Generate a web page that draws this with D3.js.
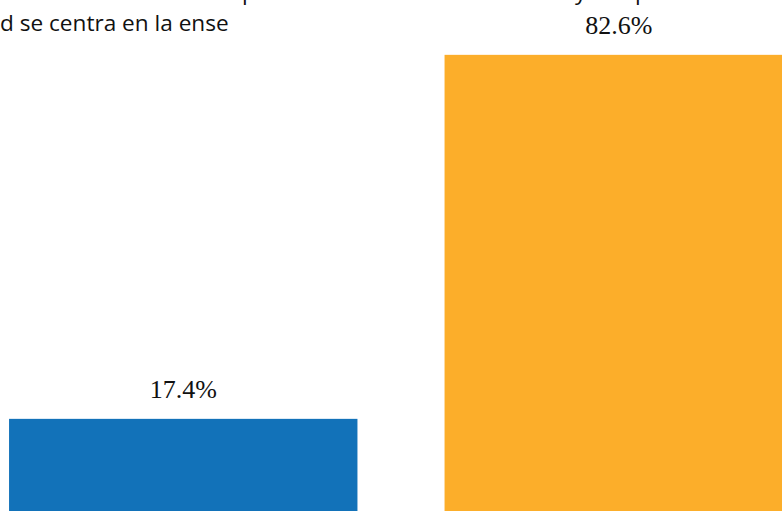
<!DOCTYPE html>
<html>
<head>
<meta charset="utf-8">
<script src="https://cdn.jsdelivr.net/npm/d3@7"></script>
<style>
  body { margin: 0; background: #ffffff; }
  svg { display: block; }
</style>
</head>
<body>
<div id="chart"></div>
<script>
// data
var categories = ["cat1", "cat2"];
var values = [17.4, 82.6];
var colors = ["#1272b9", "#fcae2a"];

var width = 782, height = 511;

var svg = d3.select("#chart")
    .append("svg")
    .attr("width", width)
    .attr("height", height);

var x = d3.scaleBand()
    .domain(categories)
    .range([-34.5, 836.5])
    .paddingInner(0.2)
    .paddingOuter(0.1);

var y = d3.scaleLinear()
    .domain([0, 100])
    .range([516, -42.3]);

// bars
svg.selectAll("rect.bar")
    .data(values)
    .enter()
    .append("rect")
    .attr("class", "bar")
    .attr("x", function (d, i) { return x(categories[i]); })
    .attr("y", function (d) { return y(d); })
    .attr("width", x.bandwidth())
    .attr("height", function (d) { return y(0) - y(d); })
    .attr("fill", function (d, i) { return colors[i]; });

// value labels
svg.selectAll("text.val")
    .data(values)
    .enter()
    .append("text")
    .attr("class", "val")
    .attr("x", function (d, i) { return x(categories[i]) + x.bandwidth() / 2; })
    .attr("y", function (d) { return y(d) - 21; })
    .attr("text-anchor", "middle")
    .attr("font-family", "Liberation Serif, Times New Roman, serif")
    .attr("font-size", "26px")
    .attr("fill", "#111111")
    .text(function (d) { return d.toFixed(1) + "%"; });

// cut-off title text at the top
svg.append("text")
    .attr("x", 0)
    .attr("y", 31)
    .attr("font-family", "Open Sans, sans-serif")
    .attr("font-size", "22.6px")
    .attr("fill", "#111111")
    .text("d se centra en la ense");

// descenders of the line above (mostly outside the view)
var fragments = [{ x: 242, c: "p" }, { x: 575, c: "y" }, { x: 635, c: "p" }];
svg.selectAll("text.frag")
    .data(fragments)
    .enter()
    .append("text")
    .attr("class", "frag")
    .attr("x", function (d) { return d.x; })
    .attr("y", -0.5)
    .attr("font-family", "Open Sans, sans-serif")
    .attr("font-size", "22.6px")
    .attr("fill", "#111111")
    .text(function (d) { return d.c; });
</script>
</body>
</html>
